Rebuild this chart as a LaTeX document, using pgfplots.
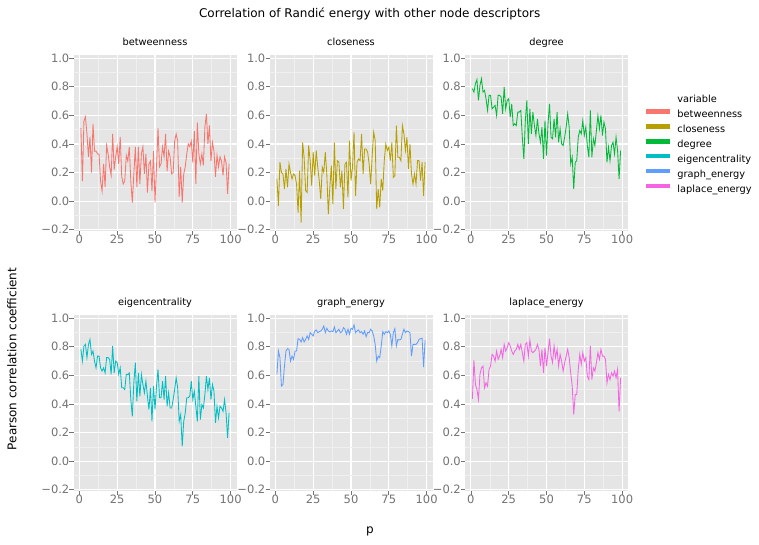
\documentclass[border=0pt]{standalone}
\usepackage{fontspec}
\setmainfont{DejaVu Sans}
\usepackage{pgfplots}
\pgfplotsset{compat=1.18}
\definecolor{bgcol}{HTML}{E5E5E5}
\definecolor{minorcol}{HTML}{F0F0F0}
\definecolor{tickcol}{HTML}{737373}
\definecolor{betcol}{HTML}{F8766D}
\definecolor{clocol}{HTML}{B79F00}
\definecolor{degcol}{HTML}{00BA38}
\definecolor{eigcol}{HTML}{00BFC4}
\definecolor{gracol}{HTML}{619CFF}
\definecolor{lapcol}{HTML}{F564E3}
\newcommand\ticksize{\fontsize{11.5bp}{13bp}\selectfont}
\newcommand\stripsize{\fontsize{9.8bp}{11bp}\selectfont}
\newcommand\legsize{\fontsize{9.8bp}{11bp}\selectfont}
\newcommand\labsize{\fontsize{12bp}{14bp}\selectfont}
\pgfplotsset{
  panel/.style={
    scale only axis, width=163bp, height=176bp, anchor=south west,
    xmin=-3.9, xmax=103.9, ymin=-0.21, ymax=1.022,
    axis background/.style={fill=bgcol},
    axis line style={draw=none},
    grid=both,
    major grid style={white, line width=1.1bp},
    minor grid style={minorcol, line width=0.5bp},
    xtick={0,25,50,75,100}, minor xtick={12.5,37.5,62.5,87.5},
    xticklabels={0,25,50,75,100},
    ytick={-0.2,0,0.2,0.4,0.6,0.8,1.0}, minor ytick={-0.1,0.1,0.3,0.5,0.7,0.9},
    yticklabels={−0.2,0.0,0.2,0.4,0.6,0.8,1.0},
    tick align=outside, tick pos=left,
    major tick length=4bp, minor tick length=0pt,
    every tick/.style={tickcol, line width=0.8bp},
    xticklabel style={font=\ticksize, text=tickcol, inner sep=0pt, anchor=north},
    yticklabel style={font=\ticksize, text=tickcol, inner sep=0pt, anchor=east},
    title style={at={(0.5,1)}, anchor=base, yshift=4bp, inner sep=0pt, font=\stripsize},
    every axis plot/.append style={line width=0.85bp, no markers},
  }
}
\begin{document}
\begin{tikzpicture}
\useasboundingbox (0,0) rectangle (759bp,545bp);
% ---------- betweenness
\begin{axis}[panel, at={(73.5bp,313.9bp)}, title={betweenness}]
\addplot[betcol] coordinates {(1,0.51)(2,0.14)(3,0.56)(4,0.59)(5,0.47)(6,0.31)(7,0.45)(8,0.20)(9,0.54)(10,0.35)(11,0.35)(12,0.33)(13,0.33)(14,0.14)(15,0.07)(16,0.26)(17,0.10)(18,0.39)(19,0.33)(20,0.24)(21,0.18)(22,0.47)(23,0.22)(24,0.31)(25,0.38)(26,0.26)(27,0.45)(28,0.17)(29,0.12)(30,0.14)(31,0.32)(32,0.28)(33,0.38)(34,0.14)(35,-0.01)(36,0.19)(37,0.38)(38,0.10)(39,0.38)(40,0.12)(41,0.33)(42,0.38)(43,0.19)(44,0.33)(45,0.06)(46,0.26)(47,0.28)(48,0.07)(49,0.35)(50,-0.01)(51,0.24)(52,0.51)(53,0.24)(54,0.26)(55,0.38)(56,0.31)(57,0.47)(58,0.21)(59,0.35)(60,0.31)(61,0.19)(62,0.20)(63,0.42)(64,0.47)(65,0.42)(66,0.03)(67,0.24)(68,-0.01)(69,0.19)(70,0.24)(71,0.33)(72,0.40)(73,0.38)(74,0.42)(75,0.27)(76,0.49)(77,0.12)(78,0.55)(79,0.33)(80,0.26)(81,0.33)(82,0.25)(83,0.52)(84,0.61)(85,0.40)(86,0.53)(87,0.28)(88,0.41)(89,0.35)(90,0.17)(91,0.32)(92,0.24)(93,0.31)(94,0.28)(95,0.18)(96,0.31)(97,0.27)(98,0.05)(99,0.26)};
\end{axis}
% ---------- closeness
\begin{axis}[panel, at={(269.5bp,313.9bp)}, title={closeness}]
\addplot[clocol] coordinates {(1,0.155)(2,-0.033)(3,0.272)(4,0.201)(5,0.19)(6,0.084)(7,0.225)(8,0.096)(9,0.26)(10,0.201)(11,0.155)(12,0.19)(13,0.178)(14,0.119)(15,-0.08)(16,0.213)(17,-0.15)(18,0.41)(19,0.307)(20,0.073)(21,0.061)(22,0.389)(23,0.283)(24,0.108)(25,0.342)(26,0.178)(27,0.354)(28,0.237)(29,0.143)(30,0.014)(31,0.237)(32,0.201)(33,0.342)(34,0.19)(35,-0.091)(36,0.096)(37,0.248)(38,-0.021)(39,0.41)(40,0.084)(41,0.283)(42,0.272)(43,0.096)(44,0.213)(45,-0.056)(46,0.26)(47,0.272)(48,0.026)(49,0.424)(50,0.143)(51,0.237)(52,0.482)(53,0.037)(54,0.272)(55,0.295)(56,0.283)(57,0.471)(58,0.19)(59,0.365)(60,0.365)(61,0.342)(62,0.26)(63,0.119)(64,0.318)(65,0.482)(66,0.424)(67,-0.056)(68,0.084)(69,-0.044)(70,0.155)(71,0.073)(72,0.283)(73,0.40)(74,0.354)(75,0.377)(76,0.283)(77,0.41)(78,0.166)(79,0.178)(80,0.529)(81,0.307)(82,0.307)(83,0.283)(84,0.529)(85,0.471)(86,0.354)(87,0.447)(88,0.225)(89,0.40)(90,0.19)(91,0.119)(92,0.19)(93,0.119)(94,0.283)(95,0.283)(96,0.143)(97,0.272)(98,0.037)(99,0.272)};
\end{axis}
% ---------- degree (with legend)
\begin{axis}[panel, at={(465bp,313.9bp)}, title={degree},
  legend cell align=left,
  legend style={at={(1.094,0.771)}, anchor=north west, draw=none, fill=none,
    inner sep=0pt, outer sep=0pt, font=\legsize, row sep=4.2bp,
    nodes={inner sep=0pt, text height=7.5bp, text depth=2.3bp},
    /tikz/every odd column/.style={column sep=5.6bp}},
  legend image code/.code={\draw[line width=4.5bp] (0bp,3.5bp) -- (24bp,3.5bp);}]
\addplot[degcol, forget plot] coordinates {(1,0.787)(2,0.763)(3,0.822)(4,0.85)(5,0.705)(6,0.81)(7,0.857)(8,0.763)(9,0.775)(10,0.717)(11,0.635)(12,0.74)(13,0.74)(14,0.646)(15,0.658)(16,0.67)(17,0.60)(18,0.74)(19,0.74)(20,0.728)(21,0.611)(22,0.799)(23,0.646)(24,0.705)(25,0.717)(26,0.588)(27,0.681)(28,0.529)(29,0.541)(30,0.529)(31,0.623)(32,0.623)(33,0.635)(34,0.447)(35,0.295)(36,0.564)(37,0.705)(38,0.40)(39,0.646)(40,0.471)(41,0.623)(42,0.529)(43,0.459)(44,0.576)(45,0.471)(46,0.412)(47,0.518)(48,0.295)(49,0.564)(50,0.318)(51,0.541)(52,0.681)(53,0.447)(54,0.436)(55,0.576)(56,0.447)(57,0.623)(58,0.412)(59,0.506)(60,0.40)(61,0.389)(62,0.447)(63,0.518)(64,0.611)(65,0.518)(66,0.26)(67,0.307)(68,0.084)(69,0.272)(70,0.283)(71,0.447)(72,0.494)(73,0.471)(74,0.564)(75,0.459)(76,0.518)(77,0.389)(78,0.307)(79,0.635)(80,0.307)(81,0.436)(82,0.389)(83,0.494)(84,0.60)(85,0.506)(86,0.60)(87,0.459)(88,0.553)(89,0.506)(90,0.272)(91,0.377)(92,0.283)(93,0.389)(94,0.412)(95,0.33)(96,0.447)(97,0.354)(98,0.155)(99,0.354)};
\addlegendimage{empty legend}\addlegendentry{variable}
\addlegendimage{betcol}\addlegendentry{betweenness}
\addlegendimage{clocol}\addlegendentry{closeness}
\addlegendimage{degcol}\addlegendentry{degree}
\addlegendimage{eigcol}\addlegendentry{eigencentrality}
\addlegendimage{gracol}\addlegendentry{graph\_energy}
\addlegendimage{lapcol}\addlegendentry{laplace\_energy}
\end{axis}
% ---------- eigencentrality
\begin{axis}[panel, at={(73.5bp,53.9bp)}, title={eigencentrality}]
\addplot[eigcol] coordinates {(1,0.782)(2,0.70)(3,0.806)(4,0.817)(5,0.724)(6,0.817)(7,0.852)(8,0.747)(9,0.77)(10,0.70)(11,0.653)(12,0.735)(13,0.735)(14,0.653)(15,0.63)(16,0.653)(17,0.618)(18,0.724)(19,0.724)(20,0.712)(21,0.607)(22,0.806)(23,0.618)(24,0.70)(25,0.689)(26,0.607)(27,0.653)(28,0.513)(29,0.513)(30,0.501)(31,0.607)(32,0.607)(33,0.618)(34,0.431)(35,0.314)(36,0.548)(37,0.689)(38,0.419)(39,0.618)(40,0.454)(41,0.607)(42,0.536)(43,0.478)(44,0.56)(45,0.454)(46,0.361)(47,0.513)(48,0.279)(49,0.525)(50,0.361)(51,0.525)(52,0.642)(53,0.443)(54,0.443)(55,0.56)(56,0.431)(57,0.595)(58,0.384)(59,0.478)(60,0.372)(61,0.372)(62,0.431)(63,0.501)(64,0.583)(65,0.513)(66,0.279)(67,0.326)(68,0.103)(69,0.279)(70,0.337)(71,0.443)(72,0.443)(73,0.454)(74,0.56)(75,0.431)(76,0.489)(77,0.384)(78,0.279)(79,0.595)(80,0.29)(81,0.396)(82,0.372)(83,0.466)(84,0.595)(85,0.501)(86,0.583)(87,0.431)(88,0.536)(89,0.489)(90,0.267)(91,0.384)(92,0.302)(93,0.384)(94,0.372)(95,0.349)(96,0.431)(97,0.337)(98,0.162)(99,0.337)};
\end{axis}
% ---------- graph_energy
\begin{axis}[panel, at={(269.5bp,53.9bp)}, title={graph\_energy}]
\addplot[gracol] coordinates {(1,0.607)(2,0.771)(3,0.724)(4,0.525)(5,0.536)(6,0.665)(7,0.771)(8,0.787)(9,0.782)(10,0.70)(11,0.735)(12,0.712)(13,0.771)(14,0.771)(15,0.857)(16,0.852)(17,0.834)(18,0.864)(19,0.834)(20,0.852)(21,0.876)(22,0.852)(23,0.899)(24,0.888)(25,0.876)(26,0.911)(27,0.918)(28,0.899)(29,0.906)(30,0.911)(31,0.923)(32,0.946)(33,0.899)(34,0.93)(35,0.911)(36,0.904)(37,0.911)(38,0.906)(39,0.939)(40,0.899)(41,0.911)(42,0.923)(43,0.899)(44,0.906)(45,0.934)(46,0.923)(47,0.888)(48,0.923)(49,0.888)(50,0.93)(51,0.923)(52,0.953)(53,0.899)(54,0.911)(55,0.918)(56,0.899)(57,0.906)(58,0.888)(59,0.911)(60,0.871)(61,0.899)(62,0.899)(63,0.923)(64,0.911)(65,0.876)(66,0.817)(67,0.70)(68,0.735)(69,0.724)(70,0.806)(71,0.906)(72,0.888)(73,0.906)(74,0.899)(75,0.911)(76,0.888)(77,0.806)(78,0.899)(79,0.927)(80,0.806)(81,0.852)(82,0.848)(83,0.852)(84,0.888)(85,0.923)(86,0.899)(87,0.911)(88,0.906)(89,0.899)(90,0.735)(91,0.817)(92,0.817)(93,0.817)(94,0.829)(95,0.852)(96,0.857)(97,0.86)(98,0.658)(99,0.845)};
\end{axis}
% ---------- laplace_energy
\begin{axis}[panel, at={(465bp,53.9bp)}, title={laplace\_energy}]
\addplot[lapcol] coordinates {(1,0.436)(2,0.705)(3,0.536)(4,0.501)(5,0.431)(6,0.607)(7,0.653)(8,0.665)(9,0.513)(10,0.548)(11,0.525)(12,0.642)(13,0.665)(14,0.747)(15,0.735)(16,0.70)(17,0.77)(18,0.712)(19,0.735)(20,0.782)(21,0.724)(22,0.817)(23,0.77)(24,0.794)(25,0.829)(26,0.806)(27,0.77)(28,0.747)(29,0.77)(30,0.782)(31,0.817)(32,0.782)(33,0.817)(34,0.759)(35,0.70)(36,0.817)(37,0.829)(38,0.735)(39,0.848)(40,0.77)(41,0.759)(42,0.77)(43,0.782)(44,0.817)(45,0.782)(46,0.665)(47,0.782)(48,0.618)(49,0.794)(50,0.665)(51,0.759)(52,0.857)(53,0.735)(54,0.689)(55,0.806)(56,0.724)(57,0.782)(58,0.665)(59,0.747)(60,0.70)(61,0.63)(62,0.689)(63,0.735)(64,0.782)(65,0.724)(66,0.618)(67,0.525)(68,0.326)(69,0.466)(70,0.466)(71,0.642)(72,0.747)(73,0.677)(74,0.759)(75,0.70)(76,0.724)(77,0.595)(78,0.571)(79,0.806)(80,0.571)(81,0.653)(82,0.63)(83,0.689)(84,0.759)(85,0.712)(86,0.782)(87,0.735)(88,0.735)(89,0.712)(90,0.548)(91,0.607)(92,0.571)(93,0.618)(94,0.595)(95,0.63)(96,0.583)(97,0.642)(98,0.349)(99,0.583)};
\end{axis}
% ---------- figure texts
\node[anchor=base, font=\labsize, inner sep=0pt] at (369.7bp,527.7bp) {Correlation of Randić energy with other node descriptors};
\node[anchor=base, font=\labsize, inner sep=0pt] at (370bp,11.5bp) {p};
\node[rotate=90, font=\labsize, inner sep=0pt] at (12bp,186bp) {Pearson correlation coefficient};
\end{tikzpicture}
\end{document}
